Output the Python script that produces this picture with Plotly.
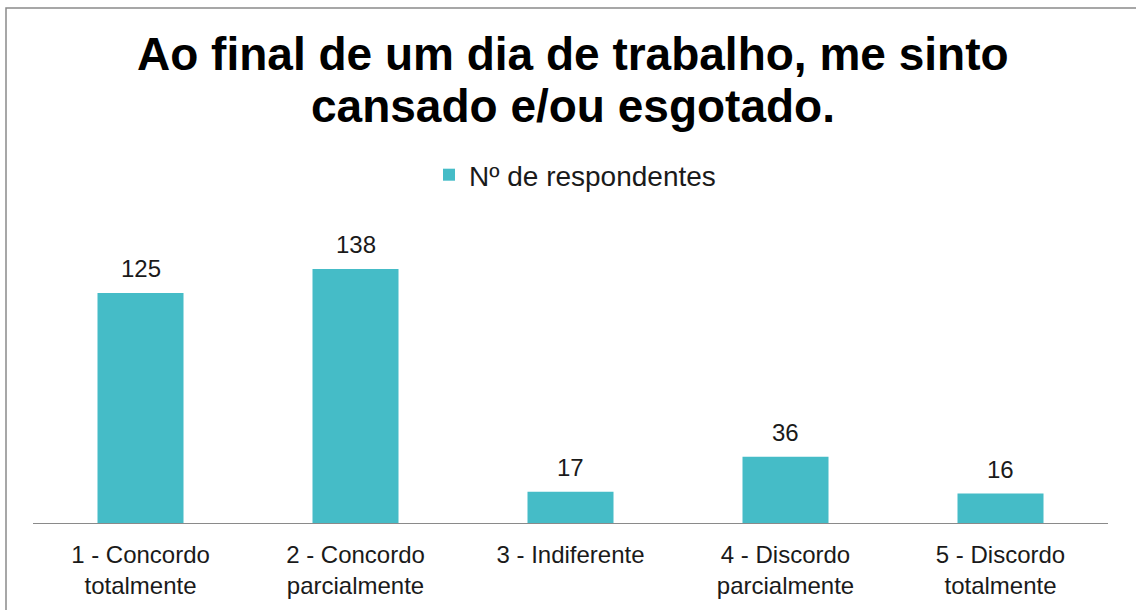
import plotly.graph_objects as go

categories = ["1 - Concordo<br>totalmente", "2 - Concordo<br>parcialmente", "3 - Indiferente",
              "4 - Discordo<br>parcialmente", "5 - Discordo<br>totalmente"]
values = [125, 138, 17, 36, 16]
series_name = "Nº de respondentes"
title_lines = ["Ao final de um dia de trabalho, me sinto", "cansado e/ou esgotado."]

W, H = 1136, 610
L, R, T, B = 33, 28, 210, 87
pw, ph = W - L - R, H - T - B

FONT = "Liberation Sans, Arial, sans-serif"

fig = go.Figure()
fig.add_trace(go.Bar(
    x=categories, y=values, name=series_name,
    marker=dict(color="#45BCC7", line=dict(width=0)),
    showlegend=True,
))

for c, v in zip(categories, values):
    fig.add_annotation(x=c, y=v, text=str(v), showarrow=False, yanchor="bottom",
                       yshift=9, font=dict(size=24, color="#1a1a1a", family=FONT))

# title, two lines (baselines ~70 and ~122 px from top)
for i, line in enumerate(title_lines):
    baseline = 70 + 52 * i
    fig.add_annotation(xref="paper", yref="paper", x=(573 - L) / pw, xanchor="center",
                       y=(H - B - baseline) / ph, yanchor="bottom", yshift=-12,
                       text="<b>" + line + "</b>", showarrow=False,
                       font=dict(size=46, color="#000000", family=FONT))

# chart border
fig.add_shape(type="rect", xref="paper", yref="paper",
              x0=(6 - L) / pw, x1=(W + 5 - L) / pw,
              y0=(H - B - (H + 5)) / ph, y1=(H - B - 8) / ph,
              line=dict(color="#8a8a8a", width=1.5), fillcolor="rgba(0,0,0,0)", layer="below")

fig.update_layout(
    width=W, height=H,
    margin=dict(l=L, r=R, t=T, b=B),
    paper_bgcolor="white", plot_bgcolor="white",
    font=dict(family=FONT, color="#1a1a1a"),
    bargap=0.6,
    legend=dict(orientation="h", x=(575 - L) / pw, xanchor="center", y=(H - B - 175) / ph, yanchor="middle",
                font=dict(size=28, color="#1a1a1a"), bgcolor="rgba(0,0,0,0)", itemwidth=30),
    xaxis=dict(showline=True, linecolor="#8a8a8a", linewidth=1, ticks="", showgrid=False,
               tickfont=dict(size=24, color="#1a1a1a"), ticklabelstandoff=10, fixedrange=True),
    yaxis=dict(range=[0, ph / (254 / 138)], visible=False, showgrid=False, zeroline=False,
               fixedrange=True),
)

fig.write_html("out.html", config={"displayModeBar": False},
               post_script="document.body.style.margin='0';")
